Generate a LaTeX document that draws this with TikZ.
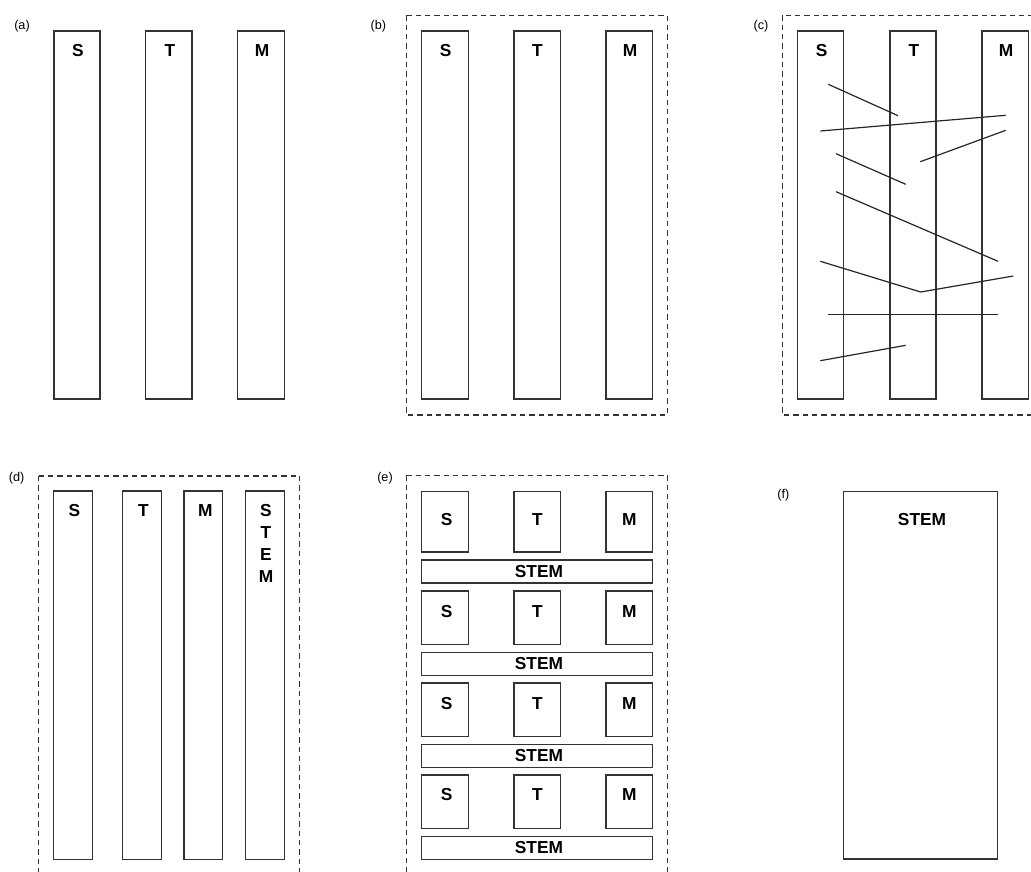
\documentclass[tikz,border=0pt]{standalone}
\usepackage{fontspec}
\setmainfont{Liberation Sans}

\tikzset{
  bar/.style={draw=black!80, line width=1pt},
  frame/.style={draw=black!80, line width=0.9pt, dash pattern=on 4pt off 3pt},
  cross/.style={draw=black!85, line width=0.9pt},
  tag/.style={font=\fontsize{13}{16.5}\selectfont\bfseries, inner sep=0pt},
  panel/.style={font=\fontsize{9.5}{11}\selectfont, inner sep=0pt}
}

\begin{document}
\begin{tikzpicture}[x=0.75pt, y=-0.75pt]
  \useasboundingbox (0,0) rectangle (1031,871);

  % (a) three separate columns
  \node[panel] (pa) at (22,26) {(a)};
  \draw[bar] (54,31) rectangle (100,399);
  \draw[bar] (145.7,31) rectangle (192,399);
  \draw[bar] (237.7,31) rectangle (284.3,399);
  \node[tag] (aS) at (78,51) {S};
  \node[tag] (aT) at (170,51) {T};
  \node[tag] (aM) at (262,51) {M};

  % (b) columns inside one frame
  \node[panel] (pb) at (378.3,26) {(b)};
  \draw[frame] (406.3,15.3) rectangle (667.3,415);
  \draw[bar] (421.7,31) rectangle (468.3,399);
  \draw[bar] (514,31) rectangle (560.3,399);
  \draw[bar] (606,31) rectangle (652.3,399);
  \node[tag] (bS) at (445.7,51) {S};
  \node[tag] (bT) at (537.3,51) {T};
  \node[tag] (bM) at (630,51) {M};

  % (c) columns with links across
  \node[panel] (pc) at (761,26) {(c)};
  \draw[frame] (782.3,15.3) rectangle (1045,415);
  \draw[bar] (797.7,31) rectangle (843.7,399);
  \draw[bar] (890,31) rectangle (936,399);
  \draw[bar] (982,31) rectangle (1028.3,399);
  \node[tag] (cS) at (821.7,51) {S};
  \node[tag] (cT) at (914,51) {T};
  \node[tag] (cM) at (1006,51) {M};

  \draw[cross] (828.3,84.3) -- (898,115.7);
  \draw[cross] (820.3,131) -- (1005.7,115.3);
  \draw[cross] (920.3,161.7) -- (1005.7,130.3);
  \draw[cross] (836,153.7) -- (905.7,184.3);
  \draw[cross] (836,191.7) -- (998,261.3);
  \draw[cross] (820.3,261.3) -- (920.7,292) -- (1013.3,276);
  \draw[cross] (828.3,314.3) -- (998,314.3);
  \draw[cross] (820.3,360.7) -- (905.7,345.3);

  % (d) STEM as a fourth column
  \node[panel] (pd) at (16.7,478) {(d)};
  \draw[frame] (38.7,476) -- (299.3,476);
  \draw[frame] (38.7,476) -- (38.7,880);
  \draw[frame] (299.3,476) -- (299.3,880);
  \draw[bar] (53.7,491) rectangle (92.3,859.3);
  \draw[bar] (122.7,491) rectangle (161.3,859.3);
  \draw[bar] (184,491) rectangle (222.7,859.3);
  \draw[bar] (245.7,491) rectangle (284.3,859.3);
  \node[tag] (dS) at (74.3,510.7) {S};
  \node[tag] (dT) at (143.3,510.7) {T};
  \node[tag] (dM) at (205.3,510.7) {M};
  \node[tag, align=center, anchor=north] (dSTEM) at (266,504.2) {S\\T\\E\\M};

  % (e) STEM after every block
  \node[panel] (pe) at (385,478) {(e)};
  \draw[frame] (406.3,475.3) -- (667.3,475.3);
  \draw[frame] (406.3,475.3) -- (406.3,880);
  \draw[frame] (667.3,475.3) -- (667.3,880);
  \foreach \ra/\rb/\ly/\sy [count=\i] in {491.3/552/519.3/560, 591/644.3/611.7/652.3,
      683/736.3/703.3/744.3, 775/828.3/795/836.3} {
    \draw[bar] (421.7,\ra) rectangle (468.3,\rb);
    \draw[bar] (514,\ra) rectangle (560.3,\rb);
    \draw[bar] (606,\ra) rectangle (652.3,\rb);
    \node[tag] (eS\i) at (446.7,\ly) {S};
    \node[tag] (eT\i) at (537.3,\ly) {T};
    \node[tag] (eM\i) at (629.3,\ly) {M};
    \draw[bar] (421.7,\sy) rectangle (652.3,\sy+23);
    \node[tag] (eSTEM\i) at (539,\sy+11.5) {STEM};
  }

  % (f) one STEM block
  \node[panel] (pf) at (783.3,495) {(f)};
  \draw[bar] (843.3,491.3) rectangle (997.3,859);
  \node[tag] (fSTEM) at (922,519.3) {STEM};
\end{tikzpicture}
\end{document}
